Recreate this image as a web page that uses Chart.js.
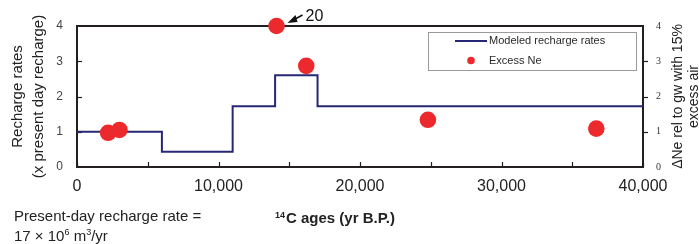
<!DOCTYPE html>
<html><head><meta charset="utf-8">
<script src="https://cdn.jsdelivr.net/npm/chart.js@4/dist/chart.umd.min.js"></script>
<style>html,body{margin:0;padding:0;background:#fff}#wrap{width:699px;height:244px;position:relative}</style>
</head><body><div id="wrap"><canvas id="c" width="699" height="244"></canvas></div>
<script>
// Data
const rechargeAges = [0, 6000, 11000, 14000, 17000, 40000];
const rechargeRates = [1, 0.43, 1.72, 2.6, 1.72, 1.72];
const neAges = [2200, 3000, 14100, 16200, 24800, 36700];
const neValues = [0.97, 1.05, 4.0, 2.87, 1.34, 1.09];
const xTickValues = [0, 10000, 20000, 30000, 40000];
const yTickValues = [0, 1, 2, 3, 4];
const seriesNames = ['Modeled recharge rates', 'Excess Ne'];

const NAVY = '#272776';
const RED = '#ec2a2e';
const FRAME = '#231f20';

const stepData = rechargeAges.map((x, i) => ({x, y: rechargeRates[i]}));
const neData = neAges.map((x, i) => ({x, y: neValues[i]}));

const decor = {
  id: 'decor',
  beforeDatasetsDraw(chart) {
    const {ctx, chartArea: a, scales} = chart;
    ctx.save();
    ctx.strokeStyle = FRAME;
    ctx.lineWidth = 2;
    ctx.strokeRect(a.left, a.top, a.right - a.left, a.bottom - a.top);
    ctx.lineWidth = 1.2;
    for (let v = 0; v <= 40000; v += 5000) {
      const px = Math.round(scales.x.getPixelForValue(v)) + 0.5;
      ctx.beginPath(); ctx.moveTo(px, a.bottom); ctx.lineTo(px, a.bottom - 5); ctx.stroke();
    }
    for (let v = 1; v <= 3; v++) {
      const py = Math.round(scales.y.getPixelForValue(v)) + 0.5;
      ctx.beginPath(); ctx.moveTo(a.left, py); ctx.lineTo(a.left + 5, py); ctx.stroke();
      const py2 = Math.round(scales.y2.getPixelForValue(v)) + 0.5;
      ctx.beginPath(); ctx.moveTo(a.right, py2); ctx.lineTo(a.right + 5, py2); ctx.stroke();
    }
    ctx.restore();
  },
  afterDraw(chart) {
    const {ctx, chartArea: a, scales} = chart;
    ctx.save();
    // legend
    ctx.fillStyle = '#fff';
    ctx.fillRect(428, 32.5, 209, 38);
    ctx.strokeStyle = '#9a9a9a';
    ctx.lineWidth = 1;
    ctx.strokeRect(428.5, 32.5, 208, 38);
    ctx.strokeStyle = NAVY; ctx.lineWidth = 2;
    ctx.beginPath(); ctx.moveTo(455, 41); ctx.lineTo(487, 41); ctx.stroke();
    ctx.fillStyle = RED;
    ctx.beginPath(); ctx.arc(471, 60.5, 3.8, 0, Math.PI * 2); ctx.fill();
    ctx.fillStyle = '#2a2a2a';
    ctx.font = '11px "Liberation Sans", Arial, sans-serif';
    ctx.textBaseline = 'middle'; ctx.textAlign = 'left';
    ctx.fillText(seriesNames[0], 489, 41);
    ctx.fillText(seriesNames[1], 489, 61);

    // annotation arrow + "20"
    const px = scales.x.getPixelForValue(neAges[2]);
    const py = scales.y.getPixelForValue(neValues[2]);
    ctx.strokeStyle = '#111'; ctx.fillStyle = '#111'; ctx.lineWidth = 1.5;
    const ax = px + 11, ay = py - 3;
    ctx.beginPath(); ctx.moveTo(px + 26, py - 11); ctx.lineTo(ax + 4, ay - 2); ctx.stroke();
    ctx.beginPath(); ctx.moveTo(ax, ay); ctx.lineTo(ax + 8, ay - 8); ctx.lineTo(ax + 10, ay - 1); ctx.closePath(); ctx.fill();
    ctx.font = '16px "Liberation Sans", Arial, sans-serif';
    ctx.fillStyle = '#111';
    ctx.textAlign = 'left'; ctx.textBaseline = 'middle';
    ctx.fillText('20', px + 29, py - 9);

    // left title
    ctx.fillStyle = '#222';
    ctx.font = '15px "Liberation Sans", Arial, sans-serif';
    ctx.textAlign = 'center'; ctx.textBaseline = 'middle';
    const cy = (a.top + a.bottom) / 2;
    ctx.save(); ctx.translate(18, cy); ctx.rotate(-Math.PI / 2);
    ctx.fillText('Recharge rates', 0, 0); ctx.restore();
    ctx.save(); ctx.translate(39, cy); ctx.rotate(-Math.PI / 2);
    ctx.fillText('(x present day recharge)', 0, 0); ctx.restore();
    // right title
    ctx.font = '14px "Liberation Sans", Arial, sans-serif';
    ctx.save(); ctx.translate(678, cy); ctx.rotate(-Math.PI / 2);
    ctx.fillText('\u0394Ne rel to gw with 15%', 0, 0); ctx.restore();
    ctx.save(); ctx.translate(694, cy); ctx.rotate(-Math.PI / 2);
    ctx.fillText('excess air', 0, 0); ctx.restore();

    // bottom notes
    ctx.textAlign = 'left'; ctx.textBaseline = 'alphabetic';
    ctx.font = '15px "Liberation Sans", Arial, sans-serif';
    ctx.fillText('Present-day recharge rate =', 14, 221);
    let x = 14;
    const seg = (t, f, dy) => { ctx.font = f; ctx.fillText(t, x, 241 + dy); x += ctx.measureText(t).width; };
    const big = '15px "Liberation Sans", Arial, sans-serif';
    const sup = '9px "Liberation Sans", Arial, sans-serif';
    seg('17 \u00d7 10', big, 0); seg('6', sup, -6); seg(' m', big, 0); seg('3', sup, -6); seg('/yr', big, 0);
    // x axis title
    x = 275;
    ctx.font = 'bold 9px "Liberation Sans", Arial, sans-serif';
    ctx.fillText('14', x, 218); x += ctx.measureText('14').width + 1;
    ctx.font = 'bold 15px "Liberation Sans", Arial, sans-serif';
    ctx.fillText('C ages (yr B.P.)', x, 223);
    ctx.restore();
  }
};

new Chart(document.getElementById('c'), {
  type: 'scatter',
  data: {
    datasets: [
      {
        label: seriesNames[1],
        data: neData,
        backgroundColor: RED,
        borderColor: RED,
        pointRadius: 8.3,
        pointHoverRadius: 8.3,
        borderWidth: 0,
        clip: false,
        order: 0,
        yAxisID: 'y'
      },
      {
        type: 'line',
        label: seriesNames[0],
        data: stepData,
        stepped: true,
        borderColor: NAVY,
        borderWidth: 2,
        pointRadius: 0,
        fill: false,
        order: 1,
        yAxisID: 'y'
      }
    ]
  },
  options: {
    responsive: false,
    animation: false,
    events: [],
    layout: {padding: {top: 26, left: 0, right: 0, bottom: 0}},
    plugins: {legend: {display: false}, tooltip: {enabled: false}},
    scales: {
      x: {
        type: 'linear', min: 0, max: 40000,
        afterBuildTicks: s => { s.ticks = xTickValues.map(v => ({value: v})); },
        afterFit: s => { s.height = 77; },
        grid: {display: false, drawTicks: false},
        border: {display: false},
        ticks: {
          padding: 10,
          color: '#222',
          font: {family: '"Liberation Sans", Arial, sans-serif', size: 16},
          maxRotation: 0,
          callback: v => v.toLocaleString('en-US')
        }
      },
      y: {
        position: 'left', min: 0, max: 4,
        afterBuildTicks: s => { s.ticks = yTickValues.map(v => ({value: v})); },
        afterFit: s => { s.width = 77; },
        grid: {display: false, drawTicks: false},
        border: {display: false},
        ticks: {padding: 14, color: '#444', font: {family: '"Liberation Sans", Arial, sans-serif', size: 12}}
      },
      y2: {
        position: 'right', min: 0, max: 4,
        afterBuildTicks: s => { s.ticks = yTickValues.map(v => ({value: v})); },
        afterFit: s => { s.width = 56; },
        grid: {display: false, drawTicks: false},
        border: {display: false},
        ticks: {padding: 13, color: '#333', font: {family: '"Liberation Serif", "Times New Roman", serif', size: 10}}
      }
    }
  },
  plugins: [decor]
});
</script>
</body></html>
